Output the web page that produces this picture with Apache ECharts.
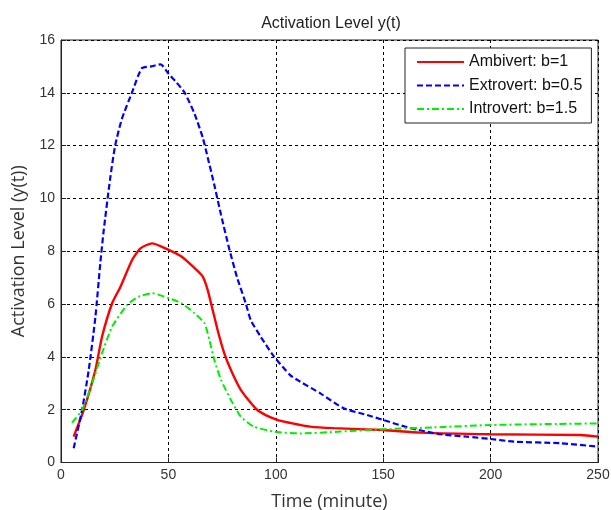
<!DOCTYPE html>
<html>
<head>
<meta charset="utf-8">
<script src="https://cdn.jsdelivr.net/npm/echarts@6/dist/echarts.min.js"></script>
<style>html,body{margin:0;padding:0;background:#fff;}#c{width:611px;height:510px;}</style>
</head>
<body>
<div id="c"></div>
<script>
var seriesNames = ['Ambivert: b=1', 'Extrovert: b=0.5', 'Introvert: b=1.5'];
var xTicks = [0, 50, 100, 150, 200, 250];
var yTicks = [0, 2, 4, 6, 8, 10, 12, 14, 16];

var ambivertT = [5.9, 10.6, 16, 19.1, 23.8, 27.7, 33.1, 37, 42.4, 48.6, 56.1, 62.2, 66, 68.3, 70.6, 72.9, 76, 79.1, 83.7, 91.4, 100.6, 106.7, 116, 127, 150, 167.4, 200, 242, 250];
var ambivertY = [0.98, 1.99, 3.5, 4.76, 6.03, 6.66, 7.67, 8.11, 8.3, 8.11, 7.8, 7.36, 7.04, 6.53, 5.78, 5.02, 4.14, 3.5, 2.75, 1.99, 1.61, 1.5, 1.36, 1.3, 1.23, 1.13, 1.07, 1.04, 0.98];

var extrovertT = [5.9, 9.8, 12.9, 16, 18.3, 19.9, 22.8, 25.2, 28.3, 33, 37.6, 42, 46.4, 49.9, 53.7, 57.6, 62.2, 66, 68.3, 71.4, 74.5, 78.3, 82, 86, 88.3, 92.9, 99, 106.7, 111.4, 120.7, 131.6, 142.5, 150, 162.7, 176.7, 189, 200, 210.9, 232.6, 250];
var extrovertY = [0.54, 1.99, 3.5, 5.5, 7.55, 8.8, 10.7, 12.0, 13.0, 14.0, 14.93, 15.0, 15.08, 14.74, 14.4, 14.0, 13.2, 12.3, 11.55, 10.5, 9.38, 8.1, 7.0, 6.03, 5.4, 4.77, 4.03, 3.31, 3.06, 2.62, 2.05, 1.8, 1.61, 1.3, 1.07, 0.98, 0.89, 0.79, 0.73, 0.6];

var introvertT = [5.1, 9.8, 14.5, 19.1, 23.8, 30.8, 36.2, 42.4, 50.2, 56.1, 62.2, 66.8, 69.1, 71.4, 74.5, 79.1, 83.7, 89.8, 99, 111.4, 130, 150, 173.6, 200, 231, 250];
var introvertY = [1.51, 1.99, 3.0, 4.14, 5.14, 5.97, 6.28, 6.41, 6.22, 6.03, 5.65, 5.27, 4.64, 3.88, 3.13, 2.37, 1.74, 1.36, 1.17, 1.1, 1.17, 1.26, 1.33, 1.42, 1.46, 1.48];

function pairs(t, y) { return t.map(function (v, i) { return [v, y[i]]; }); }

var chart = echarts.init(document.getElementById('c'));
var gridLine = { show: true, lineStyle: { color: '#000', type: [3, 3], width: 1 } };
chart.setOption({
  animation: false,
  backgroundColor: '#fff',
  title: {
    text: 'Activation Level y(t)',
    left: 326, top: 11, textAlign: 'center',
    textStyle: { fontFamily: 'Liberation Sans', fontSize: 16, fontWeight: 'normal', color: '#222' }
  },
  legend: {
    orient: 'vertical', left: 405, top: 48,
    backgroundColor: '#fff', borderColor: '#222', borderWidth: 1,
    padding: [6, 9, 6, 11], itemGap: 7.5, itemWidth: 47, itemHeight: 14,
    itemStyle: { opacity: 0 },
    textStyle: { fontFamily: 'Liberation Sans', fontSize: 16, color: '#111' },
    data: seriesNames
  },
  grid: { left: 61, right: 13, top: 40, bottom: 47.5, show: true, borderColor: '#222', borderWidth: 1,
    containLabel: false, outerBoundsMode: 'none' },
  xAxis: {
    type: 'value', min: 0, max: 250, interval: 50,
    name: 'Time (minute)', nameLocation: 'middle', nameGap: 30,
    nameTextStyle: { fontFamily: 'Open Sans', fontSize: 18, color: '#333' },
    axisLine: { show: true, lineStyle: { color: '#222' } },
    axisTick: { show: true, inside: true, length: 5, lineStyle: { color: '#222' } },
    axisLabel: { fontFamily: 'Liberation Sans', fontSize: 14, color: '#333', margin: 6,
      formatter: function (v) { return xTicks.indexOf(v) >= 0 ? String(v) : ''; } },
    splitLine: gridLine
  },
  yAxis: {
    type: 'value', min: 0, max: 16, interval: 2,
    name: 'Activation Level (y(t))', nameLocation: 'middle', nameGap: 33,
    nameTextStyle: { fontFamily: 'Open Sans', fontSize: 18, color: '#333' },
    axisLine: { show: true, lineStyle: { color: '#222' } },
    axisTick: { show: true, inside: true, length: 5, lineStyle: { color: '#222' } },
    axisLabel: { fontFamily: 'Liberation Sans', fontSize: 14, color: '#333', margin: 6,
      formatter: function (v) { return yTicks.indexOf(v) >= 0 ? String(v) : ''; } },
    splitLine: gridLine
  },
  series: [
    { name: seriesNames[0], type: 'line', symbol: 'none', smooth: 0.2,
      data: pairs(ambivertT, ambivertY),
      itemStyle: { color: '#ff0000' },
      lineStyle: { color: '#ff0000', width: 2.4, type: 'solid' } },
    { name: seriesNames[1], type: 'line', symbol: 'none', smooth: 0.2,
      data: pairs(extrovertT, extrovertY),
      itemStyle: { color: '#0000ff' },
      lineStyle: { color: '#0000ff', width: 2.2, type: [6, 3] } },
    { name: seriesNames[2], type: 'line', symbol: 'none', smooth: 0.2,
      data: pairs(introvertT, introvertY),
      itemStyle: { color: '#00ee00' },
      lineStyle: { color: '#00ee00', width: 2, type: [7, 3, 2, 3] } }
  ]
});
</script>
</body>
</html>
